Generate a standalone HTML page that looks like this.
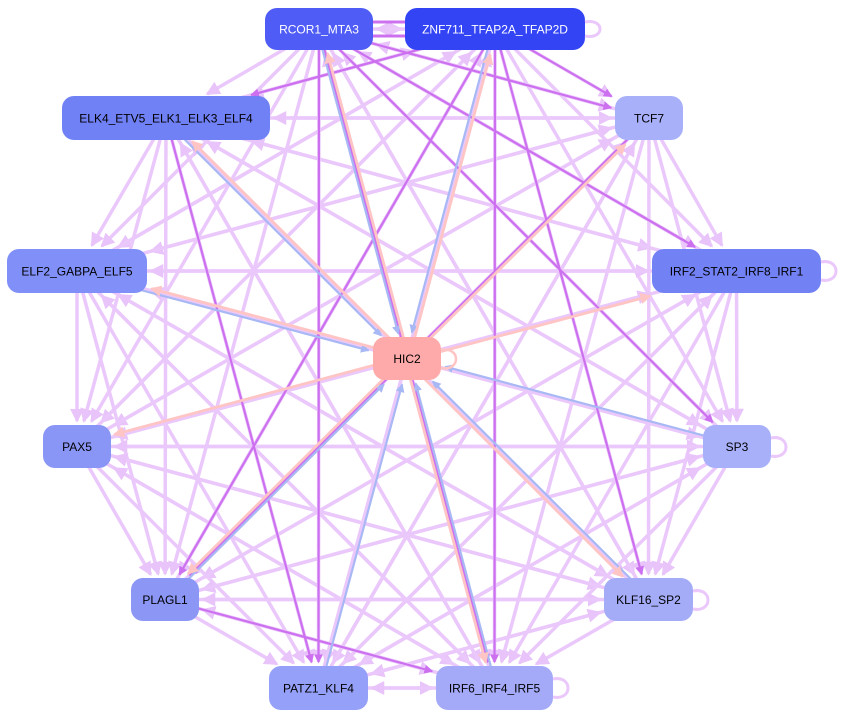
<!DOCTYPE html>
<html><head><meta charset="utf-8"><style>
body{margin:0;background:#fff;width:852px;height:718px;overflow:hidden;font-family:"Liberation Sans",sans-serif}
svg{position:absolute;left:0;top:0}
</style></head><body>
<svg id="s" width="852" height="718" viewBox="0 0 852 718">
<defs>
<marker id="ml" markerWidth="4" markerHeight="4" refX="3.5" refY="2" orient="auto" markerUnits="strokeWidth"><path d="M0,0L4,2L0,4z" fill="#e8c4fa"/></marker>
<marker id="md" markerWidth="4" markerHeight="4" refX="3.5" refY="2" orient="auto" markerUnits="strokeWidth"><path d="M0,0L4,2L0,4z" fill="#cc70f0"/></marker>
<marker id="mp" markerWidth="4" markerHeight="4" refX="3.5" refY="2" orient="auto" markerUnits="strokeWidth"><path d="M0,0L4,2L0,4z" fill="#ffc4c4"/></marker>
<marker id="mb" markerWidth="4" markerHeight="4" refX="3.5" refY="2" orient="auto" markerUnits="strokeWidth"><path d="M0,0L4,2L0,4z" fill="#a8b8f4"/></marker>
</defs>
<g id="e"></g><g id="n"></g>
</svg>
<script>
var N={R:[265,8,108,42,"RCOR1_MTA3","#4f5cf5","#fff"],Z:[405,8,180,42,"ZNF711_TFAP2A_TFAP2D","#3344f5","#fff"],
E:[62,96,208,44,"ELK4_ETV5_ELK1_ELK3_ELF4","#7080f5","#000"],T:[615,96,68,44,"TCF7","#a8b0fa","#000"],
EL:[7,249,140,44,"ELF2_GABPA_ELF5","#8090f8","#000"],I:[652,249,169,44,"IRF2_STAT2_IRF8_IRF1","#7282f5","#000"],
H:[373,337,68,43,"HIC2","#ffaaaa","#000"],P:[43,425,68,43,"PAX5","#8a96f5","#000"],S:[703,425,68,43,"SP3","#a8b0fa","#000"],
PL:[131,578,68,43,"PLAGL1","#8b96f5","#000"],K:[604,578,89,43,"KLF16_SP2","#a4acf8","#000"],
PA:[269,666,99,44,"PATZ1_KLF4","#95a0f8","#000"],IR:[436,666,117,44,"IRF6_IRF4_IRF5","#a4aaf8","#000"]};
function c(k){var a=N[k];return[a[0]+a[2]/2,a[1]+a[3]/2]}
var ns="http://www.w3.org/2000/svg",eg=document.getElementById("e"),ng=document.getElementById("n");
function line(a,b,col,m,w,off){off=off||0;var p=c(a),q=c(b),dx=q[0]-p[0],dy=q[1]-p[1],L=Math.hypot(dx,dy);
var ox=-dy/L*off,oy=dx/L*off;
var nb=N[b],t=Math.min(Math.abs(nb[2]/2/ (dx||1e-6)),Math.abs(nb[3]/2/(dy||1e-6)));var ex=q[0]-dx*t-dx/L*4+ox,ey=q[1]-dy*t-dy/L*4+oy;
var l=document.createElementNS(ns,"line");l.setAttribute("x1",p[0]+ox);l.setAttribute("y1",p[1]+oy);l.setAttribute("x2",ex);l.setAttribute("y2",ey);
l.setAttribute("stroke",col);l.setAttribute("stroke-width",w);l.setAttribute("marker-end","url(#"+m+")");eg.appendChild(l);}
var outer=["R","Z","E","T","EL","I","P","S","PL","K","PA","IR"];
for(var i=0;i<outer.length;i++)for(var j=0;j<outer.length;j++){if(i==j)continue;if((i+j)%2==0&&i>j)continue;line(outer[i],outer[j],"#ebc8fb","ml",3.5);}
[["R","T"],["Z","T"],["Z","IR"],["Z","PL"],["R","PA"],["R","S"],["Z","K"],["R","IR"],["Z","E"],["R","I"],["PL","IR"],["E","PA"],["T","PL"]].forEach(function(x){line(x[0],x[1],"#cc70f0","md",2.2);});
[["E","H"],["R","H"],["Z","H"],["EL","H"],["S","H"],["PA","H"],["PL","H"],["IR","H"],["K","H"]].forEach(function(x){line(x[0],x[1],"#a8b8f4","mb",2.2,2);});
[["H","E"],["H","R"],["H","Z"],["H","T"],["H","I"],["H","P"],["H","EL"],["H","K"],["H","IR"],["H","PL"]].forEach(function(x){line(x[0],x[1],"#ffc4c4","mp",2.8,2);});
for(var k in N){var a=N[k];var r=document.createElementNS(ns,"rect");r.setAttribute("x",a[0]);r.setAttribute("y",a[1]);r.setAttribute("width",a[2]);r.setAttribute("height",a[3]);r.setAttribute("rx",12);r.setAttribute("fill",a[5]);ng.appendChild(r);
var t=document.createElementNS(ns,"text");t.setAttribute("x",a[0]+a[2]/2);t.setAttribute("y",a[1]+a[3]/2+4.5);t.setAttribute("text-anchor","middle");t.setAttribute("font-size","12");t.setAttribute("fill",a[6]);t.setAttribute("font-family","Liberation Sans, sans-serif");t.textContent=a[4];ng.appendChild(t);}
</script>
<svg width="852" height="718" style="pointer-events:none">
<path d="M585,22 C605,18 605,40 585,36" fill="none" stroke="#ebc8fb" stroke-width="3"/>
<path d="M821,262 C841,258 841,284 821,280" fill="none" stroke="#ebc8fb" stroke-width="3"/>
<path d="M441,350 C461,346 461,372 441,368" fill="none" stroke="#ffc4c4" stroke-width="2.5"/>
<path d="M771,438 C791,434 791,460 771,456" fill="none" stroke="#ebc8fb" stroke-width="3"/>
<path d="M693,591 C713,587 713,613 693,609" fill="none" stroke="#ebc8fb" stroke-width="3"/>
<path d="M553,679 C573,675 573,701 553,697" fill="none" stroke="#ebc8fb" stroke-width="3"/>
<path d="M373,22 L405,22 M373,36 L405,36" stroke="#cc70f0" stroke-width="3"/>
</svg>
</body></html>
